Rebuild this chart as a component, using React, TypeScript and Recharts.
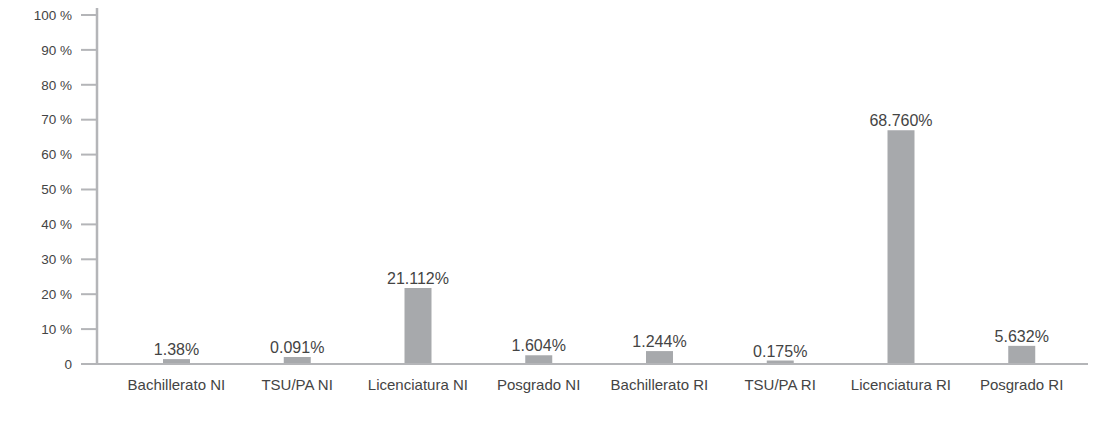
import { BarChart, Bar, XAxis, YAxis, LabelList } from "recharts";

const CATEGORIES = [
  "Bachillerato NI",
  "TSU/PA NI",
  "Licenciatura NI",
  "Posgrado NI",
  "Bachillerato RI",
  "TSU/PA RI",
  "Licenciatura RI",
  "Posgrado RI",
];

// bar heights as drawn in the picture (percent)
const HEIGHTS = [1.4, 2.0, 21.8, 2.5, 3.7, 1.0, 67.0, 5.2];

// value labels printed above the bars
const LABELS = ["1.38%", "0.091%", "21.112%", "1.604%", "1.244%", "0.175%", "68.760%", "5.632%"];

const Y_TICKS = [0, 10, 20, 30, 40, 50, 60, 70, 80, 90, 100];

const AXIS = "#b4b5b8";
const BAR = "#a7a9ac";
const TEXT = "#444444";
const FONT = "'Liberation Sans', Arial, sans-serif";

const data = CATEGORIES.map((name, i) => ({ name, value: HEIGHTS[i], label: LABELS[i] }));

export default function App() {
  return (
    <div style={{ position: "absolute", left: 0, top: 0, background: "#fff" }}>
      <BarChart width={1097} height={425} data={data} margin={{ top: 8, right: 9, bottom: 31, left: 0 }}>
        <XAxis
          dataKey="name"
          height={30}
          padding={{ left: 19, right: 6 }}
          axisLine={{ stroke: AXIS, strokeWidth: 2 }}
          tickLine={false}
          tickSize={0}
          tickMargin={15}
          interval={0}
          tick={{ fill: TEXT, fontSize: 15, fontFamily: FONT }}
        />
        <YAxis
          width={97}
          domain={[0, 102]}
          ticks={Y_TICKS}
          allowDataOverflow
          axisLine={{ stroke: AXIS, strokeWidth: 2.5 }}
          tickLine={{ stroke: AXIS, strokeWidth: 2 }}
          tickSize={16}
          tickMargin={9}
          tickFormatter={(v: number) => (v === 0 ? "0" : `${v} %`)}
          tick={{ fill: TEXT, fontSize: 13.5, fontFamily: FONT }}
        />
        <Bar dataKey="value" fill={BAR} barSize={27} isAnimationActive={false}>
          <LabelList
            dataKey="label"
            position="top"
            offset={4}
            style={{ fill: TEXT, fontSize: 16, fontFamily: FONT }}
          />
        </Bar>
      </BarChart>
    </div>
  );
}
